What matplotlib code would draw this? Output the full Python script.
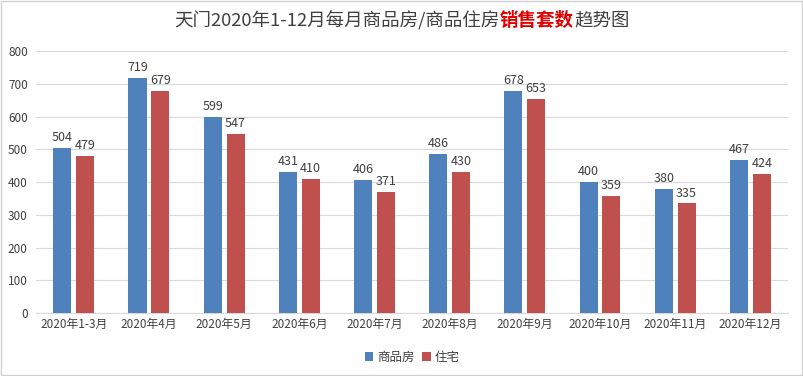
import matplotlib.pyplot as plt
import numpy as np

plt.rcParams['font.family'] = ['Noto Sans CJK SC', 'DejaVu Sans']

# 月份与销售套数
months = ['2020年1-3月', '2020年4月', '2020年5月', '2020年6月', '2020年7月',
          '2020年8月', '2020年9月', '2020年10月', '2020年11月', '2020年12月']
shangpinfang = [504, 719, 599, 431, 406, 486, 678, 400, 380, 467]
zhuzhai = [479, 679, 547, 410, 371, 430, 653, 359, 335, 424]

blue = '#4F81BD'
red = '#C0504D'
text_col = '#404040'

fig = plt.figure(figsize=(8.04, 3.76), dpi=100)
ax = fig.add_axes([0.045, 0.167, 0.935, 0.697])

x = np.arange(len(months))
w = 0.24
b1 = ax.bar(x - 0.152, shangpinfang, w, color=blue, label='商品房', zorder=3)
b2 = ax.bar(x + 0.152, zhuzhai, w, color=red, label='住宅', zorder=3)

for bars in (b1, b2):
    for rect in bars:
        h = rect.get_height()
        ax.text(rect.get_x() + rect.get_width() / 2, h + 12, f'{int(h)}',
                ha='center', va='bottom', fontsize=9, fontweight='medium', color=text_col)

ax.set_ylim(0, 800)
ax.set_xlim(-0.5, len(months) - 0.5)
ax.set_yticks(range(0, 801, 100))
ax.set_xticks(x)
ax.set_xticklabels(months)
ax.tick_params(axis='both', length=0, labelsize=8.5, colors=text_col)
ax.tick_params(axis='y', pad=6)
ax.grid(axis='y', color='#D9D9D9', linewidth=0.8, zorder=0)
for s in ('top', 'right', 'left'):
    ax.spines[s].set_visible(False)
ax.spines['bottom'].set_color('#D9D9D9')

ax.legend(loc='upper center', bbox_to_anchor=(0.5, -0.1), ncol=2, frameon=False,
          fontsize=9, handlelength=0.7, handleheight=0.7, handletextpad=0.3,
          columnspacing=0.6, labelcolor=text_col)

# 标题：分段着色
parts = [('天门2020年1-12月每月商品房/商品住房', text_col, 'medium'),
         ('销售套数', '#E00000', 'bold'),
         ('趋势图', text_col, 'medium')]
fig.canvas.draw()
renderer = fig.canvas.get_renderer()
texts = []
for s, c, wgt in parts:
    t = fig.text(0, 0.945, s, color=c, fontsize=13.3, fontweight=wgt, va='center')
    texts.append(t)
widths = [t.get_window_extent(renderer).width for t in texts]
total = sum(widths)
xpos = (fig.bbox.width - total) / 2
for t, wd in zip(texts, widths):
    t.set_x(xpos / fig.bbox.width)
    xpos += wd

# 外框
fig.patches.append(plt.Rectangle((0.001, 0.002), 0.997, 0.995, transform=fig.transFigure,
                                 fill=False, edgecolor='#D0D0D0', linewidth=1))

fig.savefig('out.png', dpi=100)
